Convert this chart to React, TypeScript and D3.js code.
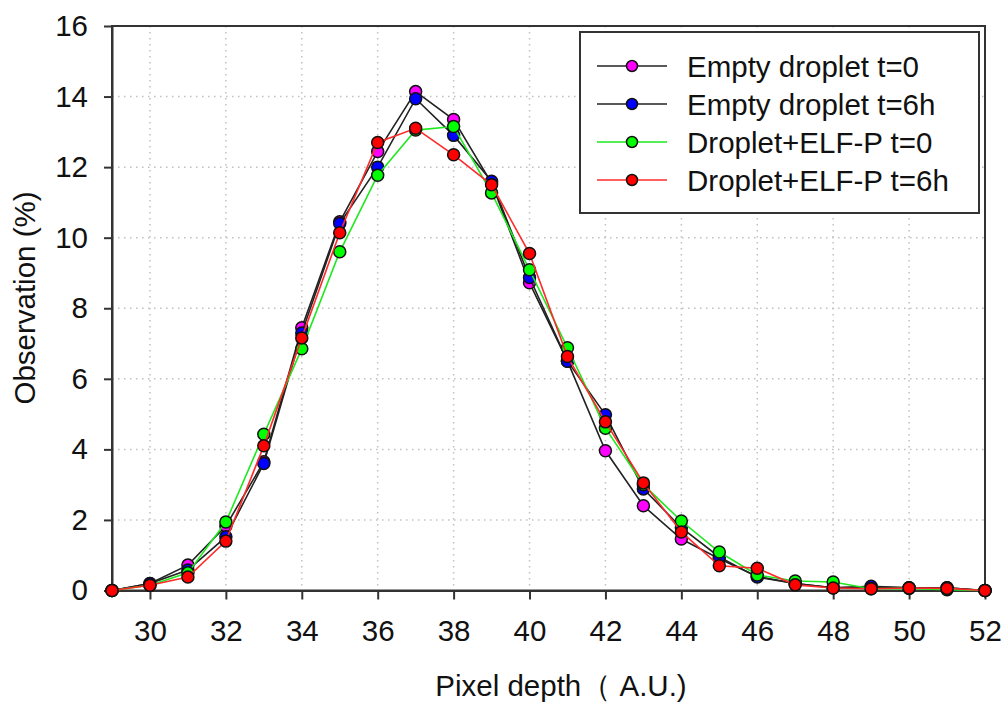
import { useEffect, useRef } from 'react';
import * as d3 from 'd3';

// pixel depth (A.U.)
const depth = [29, 30, 31, 32, 33, 34, 35, 36, 37, 38, 39, 40, 41, 42, 43, 44, 45, 46, 47, 48, 49, 50, 51, 52];

// observation (%) per series
const emptyT0 = [0, 0.2, 0.72, 1.83, 3.65, 7.45, 10.45, 12.44, 14.14, 13.35, 11.55, 8.72, 6.5, 3.96, 2.4, 1.46, 0.9, 0.4, 0.2, 0.08, 0.1, 0.08, 0.08, 0];
const emptyT6 = [0, 0.2, 0.58, 1.52, 3.6, 7.3, 10.4, 12.0, 13.94, 12.9, 11.6, 8.87, 6.5, 4.98, 2.88, 1.78, 0.95, 0.38, 0.2, 0.08, 0.12, 0.08, 0.08, 0];
const elfT0 = [0, 0.15, 0.5, 1.94, 4.43, 6.85, 9.6, 11.77, 13.05, 13.15, 11.27, 9.09, 6.88, 4.6, 3.0, 1.97, 1.09, 0.44, 0.27, 0.24, 0.05, 0.06, 0.02, 0];
const elfT6 = [0, 0.15, 0.38, 1.4, 4.1, 7.16, 10.14, 12.7, 13.1, 12.35, 11.5, 9.55, 6.63, 4.78, 3.05, 1.66, 0.7, 0.63, 0.16, 0.07, 0.05, 0.07, 0.06, 0];

const seriesNames = ['Empty droplet t=0', 'Empty droplet t=6h', 'Droplet+ELF-P t=0', 'Droplet+ELF-P t=6h'];
const seriesValues = [emptyT0, emptyT6, elfT0, elfT6];
const lineColors = ['#222222', '#222222', '#1ee81e', '#ff2a2a'];
const markerColors = ['#ff00ff', '#0000ff', '#00ff00', '#ff0000'];

const xTicks = [30, 32, 34, 36, 38, 40, 42, 44, 46, 48, 50, 52];
const yTicks = [0, 2, 4, 6, 8, 10, 12, 14, 16];

const FONT = '"Liberation Sans", Arial, sans-serif';
const FS = '29.5px';

const App = () => {
  const svgRef = useRef<SVGSVGElement | null>(null);

  useEffect(() => {
    const svg = d3.select(svgRef.current);
    svg.selectAll('*').remove();

    const left = 112, right = 985, top = 26, bottom = 590.5;
    const x = d3.scaleLinear().domain([29, 52]).range([left, right]);
    const y = d3.scaleLinear().domain([0, 16]).range([bottom, top]);

    svg.append('rect').attr('width', 1008).attr('height', 702).attr('fill', '#fff');

    // dotted grid
    const grid = svg.append('g')
      .attr('stroke', '#c4c0bc')
      .attr('stroke-width', 1.5)
      .attr('stroke-dasharray', '1.5,4.5');
    grid.selectAll('.gx')
      .data(xTicks.filter(d => d < 52))
      .enter()
      .append('line')
      .attr('x1', d => x(d)).attr('x2', d => x(d))
      .attr('y1', top).attr('y2', bottom);
    grid.selectAll('.gy')
      .data(yTicks.filter(d => d > 0 && d < 16))
      .enter()
      .append('line')
      .attr('x1', left).attr('x2', right)
      .attr('y1', d => y(d)).attr('y2', d => y(d));

    // frame
    svg.append('rect')
      .attr('x', left).attr('y', top)
      .attr('width', right - left).attr('height', bottom - top)
      .attr('fill', 'none')
      .attr('stroke', '#333')
      .attr('stroke-width', 2);

    // axes
    const xAxis = svg.append('g')
      .attr('transform', `translate(0,${bottom})`)
      .call(d3.axisBottom(x).tickValues(xTicks).tickSize(9).tickPadding(21).tickSizeOuter(0));
    const yAxis = svg.append('g')
      .attr('transform', `translate(${left},0)`)
      .call(d3.axisLeft(y).tickValues(yTicks).tickSize(8).tickPadding(16).tickSizeOuter(0));
    [xAxis, yAxis].forEach(a => {
      a.select('.domain').attr('stroke', '#333').attr('stroke-width', 2);
      a.selectAll('.tick line').attr('stroke', '#333').attr('stroke-width', 2);
      a.selectAll('.tick text')
        .attr('fill', '#111')
        .style('font-family', FONT)
        .style('font-size', FS);
    });

    // axis titles
    svg.append('text')
      .attr('x', 561).attr('y', 696)
      .attr('text-anchor', 'middle')
      .style('font-family', FONT)
      .style('font-size', FS)
      .attr('fill', '#111')
      .text('Pixel depth（ A.U.)');
    svg.append('text')
      .attr('transform', 'translate(35,298) rotate(-90)')
      .attr('text-anchor', 'middle')
      .style('font-family', FONT)
      .style('font-size', FS)
      .attr('fill', '#111')
      .text('Observation (%)');

    // series
    const line = d3.line<number>()
      .x((d, i) => x(depth[i]))
      .y(d => y(d));

    seriesValues.forEach((vals, s) => {
      const g = svg.append('g');
      g.append('path')
        .attr('d', line(vals))
        .attr('fill', 'none')
        .attr('stroke', lineColors[s])
        .attr('stroke-width', 1.6);
      g.selectAll('circle')
        .data(vals)
        .enter()
        .append('circle')
        .attr('cx', (d, i) => x(depth[i]))
        .attr('cy', d => y(d))
        .attr('r', 6)
        .attr('fill', markerColors[s])
        .attr('stroke', '#111')
        .attr('stroke-width', 1.5);
    });

    // legend
    const lg = svg.append('g');
    lg.append('rect')
      .attr('x', 580).attr('y', 32)
      .attr('width', 399).attr('height', 181)
      .attr('fill', '#fff')
      .attr('stroke', '#333')
      .attr('stroke-width', 2);
    seriesNames.forEach((name, i) => {
      const cy = 66 + i * 38;
      lg.append('line')
        .attr('x1', 597).attr('x2', 667)
        .attr('y1', cy).attr('y2', cy)
        .attr('stroke', lineColors[i])
        .attr('stroke-width', 1.6);
      lg.append('circle')
        .attr('cx', 632).attr('cy', cy).attr('r', 5.5)
        .attr('fill', markerColors[i])
        .attr('stroke', '#111')
        .attr('stroke-width', 1.5);
      lg.append('text')
        .attr('x', 687).attr('y', cy + 10.5)
        .style('font-family', FONT)
        .style('font-size', FS)
        .attr('fill', '#111')
        .text(name);
    });
  }, []);

  return (
    <div style={{ position: 'absolute', left: 0, top: 0 }}>
      <svg ref={svgRef} width={1008} height={702} style={{ display: 'block' }}></svg>
    </div>
  );
};

export default App;
